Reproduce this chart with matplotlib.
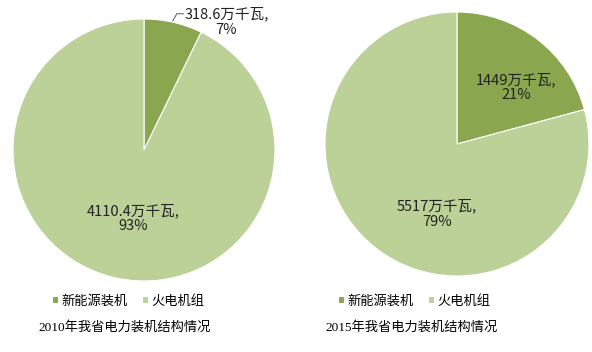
import matplotlib
matplotlib.use("Agg")
import matplotlib.pyplot as plt

plt.rcParams['font.family'] = ['Noto Sans CJK SC', 'DejaVu Sans']

categories = ["新能源装机", "火电机组"]
values_2010 = [318.6, 4110.4]
values_2015 = [1449, 5517]
pct_2010 = ["7%", "93%"]
pct_2015 = ["21%", "79%"]
titles = ["2010年我省电力装机结构情况", "2015年我省电力装机结构情况"]
colors = ["#8aa74f", "#bcd198"]

W, H = 592, 352
fig = plt.figure(figsize=(W / 100, H / 100), dpi=100)


def pie_axes(cx, cy, r):
    ax = fig.add_axes([(cx - r) / W, 1 - (cy + r) / H, 2 * r / W, 2 * r / H])
    return ax


def fmt(v):
    return ("%g" % v) + "万千瓦,"


def draw_pie(ax, vals):
    wedges, _ = ax.pie(vals, colors=colors, startangle=90, counterclock=False,
                       radius=1, center=(0, 0), frame=True,
                       wedgeprops=dict(edgecolor="white", linewidth=0.8))
    ax.set_xlim(-1, 1)
    ax.set_ylim(-1, 1)
    ax.axis("off")
    return wedges


lab = dict(ha="center", va="center", fontsize=10.5, linespacing=1.1, color="#222222")

# left pie (2010)
ax1 = pie_axes(144, 150, 131)
w1 = draw_pie(ax1, values_2010)
ax1.text(0.63, 0.98, fmt(values_2010[0]) + "\n" + pct_2010[0], **lab)
ax1.plot([0.22, 0.25, 0.30], [0.985, 1.04, 1.04], color="#555555", lw=0.7,
         clip_on=False)
ax1.text(-0.08, -0.52, fmt(values_2010[1]) + "\n" + pct_2010[1], **lab)

# right pie (2015)
ax2 = pie_axes(457, 144, 132)
w2 = draw_pie(ax2, values_2015)
ax2.text(0.45, 0.43, fmt(values_2015[0]) + "\n" + pct_2015[0], **lab)
ax2.text(-0.15, -0.53, fmt(values_2015[1]) + "\n" + pct_2015[1], **lab)

# legends and titles
for wedges, lx, tx, title in [(w1, 128, 125, titles[0]), (w2, 414, 412, titles[1])]:
    fig.legend(wedges, categories, loc="center", bbox_to_anchor=(lx / W, 1 - 301 / H),
               ncol=2, frameon=False, fontsize=9.5, handlelength=0.45,
               handleheight=0.45, handletextpad=0.25, columnspacing=1.1)
    fig.text(tx / W, 1 - 327 / H, title, ha="center", va="center", fontsize=9.5,
             family=["Liberation Serif", "Noto Sans CJK SC"])

fig.savefig("out.png", dpi=100)
